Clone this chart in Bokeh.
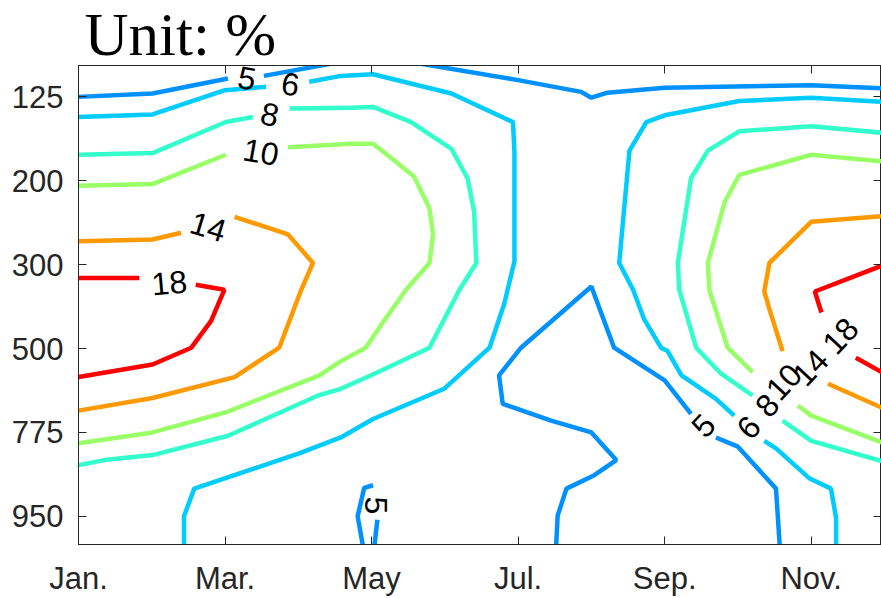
import math
from bokeh.plotting import figure
from bokeh.models import Range1d, FixedTicker, LinearAxis
from bokeh.embed import file_html
from bokeh.resources import INLINE
from bokeh.core.properties import value

# ---------------- data ----------------
title_text = "Unit: %"

month_ticks = [1, 3, 5, 7, 9, 11]
month_labels = ["Jan.", "Mar.", "May", "Jul.", "Sep.", "Nov."]
level_ticks = [1, 2, 3, 4, 5, 6]
level_labels = ["125", "200", "300", "500", "775", "950"]

levels = [5, 6, 8, 10, 14, 18]
level_colors = ["#0091FF", "#00CCFF", "#33FFCC", "#99FF66", "#FF9900", "#FF0000"]

# contour polylines: x = month (1=Jan), y = pressure-level index (1=125 ... 6=950)
c5_x = [
    [1.00, 2.01, 3.04],
    [3.53, 4.60],
    [5.50, 7.00, 7.86, 8.00, 8.22, 9.00, 11.00, 12.00],
    [7.52, 7.54, 7.66, 8.04, 8.34, 8.00, 7.45, 6.79, 6.74, 7.04, 8.00, 8.31, 9.00, 9.36],
    [9.70, 10.00, 10.52, 10.57],
    [4.88, 4.81, 4.90, 5.02],
    [5.08, 5.04],
]
c5_y = [
    [1.00, 0.96, 0.78],
    [0.75, 0.58],
    [0.58, 0.80, 0.94, 1.01, 0.95, 0.89, 0.86, 0.90],
    [6.34, 5.99, 5.67, 5.51, 5.33, 5.00, 4.86, 4.66, 4.32, 3.99, 3.26, 3.99, 4.38, 4.78],
    [5.06, 5.17, 5.67, 6.34],
    [6.34, 6.00, 5.66, 5.63],
    [6.04, 6.34],
]
c6_x = [
    [1.00, 2.01, 3.00, 3.56],
    [4.15, 4.58, 5.02, 6.09, 6.93, 6.95, 6.95, 6.81, 6.61, 5.99, 5.02, 4.58, 4.01, 2.58, 2.44, 2.44],
    [12.00, 11.00, 10.02, 9.00, 8.75, 8.52, 8.38, 8.57, 8.72, 8.95, 9.04, 9.23, 9.70, 9.95],
    [10.36, 10.52, 10.98, 11.27, 11.34, 11.34],
]
c6_y = [
    [1.24, 1.21, 0.92, 0.88],
    [0.82, 0.75, 0.73, 0.96, 1.30, 1.66, 2.96, 3.47, 3.99, 4.48, 4.84, 5.06, 5.25, 5.67, 6.00, 6.34],
    [1.06, 1.01, 1.05, 1.22, 1.30, 1.64, 2.98, 3.30, 3.65, 3.99, 4.03, 4.32, 4.60, 4.80],
    [5.10, 5.19, 5.55, 5.67, 6.02, 6.34],
]
c8_x = [
    [1.00, 2.01, 3.01, 3.38],
    [3.88, 4.72, 5.02, 5.54, 6.09, 6.31, 6.40, 6.43, 6.20, 5.79, 5.04, 4.58, 4.27, 3.04, 2.01, 1.35, 1.00],
    [12.00, 11.00, 10.02, 9.59, 9.36, 9.18, 9.20, 9.43, 9.77, 10.20],
    [10.61, 11.00, 12.00],
]
c8_y = [
    [1.69, 1.67, 1.30, 1.24],
    [1.14, 1.13, 1.12, 1.30, 1.62, 1.97, 2.37, 2.98, 3.30, 3.99, 4.30, 4.48, 4.56, 5.04, 5.27, 5.33, 5.39],
    [1.43, 1.35, 1.41, 1.64, 1.97, 2.98, 3.30, 3.99, 4.30, 4.56],
    [4.86, 5.10, 5.35],
]
c10_x = [
    [1.00, 2.01, 3.01],
    [3.86, 4.72, 5.02, 5.17, 5.58, 5.79, 5.84, 5.79, 5.47, 5.17, 4.92, 4.58, 4.29, 3.01, 2.01, 1.00],
    [12.00, 11.00, 10.02, 9.82, 9.59, 9.61, 9.86, 10.20],
    [10.82, 11.00, 12.00],
]
c10_y = [
    [2.06, 2.04, 1.69],
    [1.60, 1.56, 1.56, 1.66, 1.95, 2.33, 2.64, 2.98, 3.30, 3.67, 3.99, 4.15, 4.32, 4.76, 5.00, 5.13],
    [1.77, 1.69, 1.93, 2.25, 2.98, 3.30, 3.99, 4.28],
    [4.68, 4.80, 5.13],
]
c14_x = [
    [1.00, 2.01, 2.40],
    [3.13, 3.86, 4.20, 4.04, 3.74, 3.13, 2.01, 1.00],
    [12.00, 11.00, 10.43, 10.36, 10.43, 10.61],
    [11.23, 12.00],
]
c14_y = [
    [2.72, 2.70, 2.62],
    [2.43, 2.64, 2.98, 3.30, 3.99, 4.34, 4.59, 4.74],
    [2.42, 2.49, 2.98, 3.32, 3.53, 4.03],
    [4.42, 4.72],
]
c18_x = [
    [1.00, 1.83],
    [2.60, 2.99, 2.81, 2.54, 2.01, 1.00],
    [12.00, 11.05, 11.14],
    [11.61, 12.00],
]
c18_y = [
    [3.16, 3.16],
    [3.24, 3.30, 3.67, 3.99, 4.19, 4.34],
    [3.00, 3.32, 3.57],
    [4.11, 4.30],
]

# inline contour labels
label_text = ["5", "6", "8", "10", "14", "18", "5", "5", "6", "8", "10", "14", "18"]
label_x = [3.30, 3.89, 3.61, 3.49, 2.77, 2.24, 5.06, 9.53, 10.15, 10.40, 10.63, 10.99, 11.40]
label_y = [0.78, 0.85, 1.21, 1.66, 2.55, 3.22, 5.87, 4.92, 4.94, 4.68, 4.40, 4.23, 3.85]
label_angle_deg = [-10, -8, -12, -10, -17, 5, -90, 47, 47, 47, 47, 47, 47]

# ---------------- figure ----------------
AX = "#262626"
p = figure(
    width=881, height=598,
    output_backend="svg", toolbar_location=None,
    x_range=Range1d(1, 11.96), y_range=Range1d(6.336, 0.626),
    min_border_left=78, min_border_right=0, min_border_top=0, min_border_bottom=0,
    background_fill_color="white", border_fill_color="white",
    title=title_text,
)
p.grid.visible = False
p.outline_line_color = AX
p.outline_line_width = 1

p.title.text_font = "Liberation Serif"
p.title.text_font_size = "61px"
p.title.text_font_style = "normal"
p.title.text_color = "black"
p.title.align = "left"
p.title.offset = 6
p.title.standoff = -4

contours_x = [c5_x, c6_x, c8_x, c10_x, c14_x, c18_x]
contours_y = [c5_y, c6_y, c8_y, c10_y, c14_y, c18_y]
for xs, ys, col in zip(contours_x, contours_y, level_colors):
    p.multi_line(xs=xs, ys=ys, line_color=col, line_width=4.5)

p.text(
    x=label_x, y=label_y, text=label_text,
    angle=[math.radians(a) for a in label_angle_deg],
    text_align="center", text_baseline="middle",
    text_font=value("Liberation Sans"), text_font_size="32px", text_color="black",
)

def style_axis(ax, ticks, labels, show):
    ax.ticker = FixedTicker(ticks=ticks)
    ax.major_label_overrides = {t: (l if show else "") for t, l in zip(ticks, labels)}
    ax.major_tick_in = 8
    ax.major_tick_out = 0
    ax.minor_tick_in = 0
    ax.minor_tick_out = 0
    ax.major_tick_line_color = AX
    ax.major_tick_line_width = 1
    ax.axis_line_color = AX
    ax.major_label_text_font = "Liberation Sans"
    ax.major_label_text_font_size = "31px"
    ax.major_label_text_color = AX

style_axis(p.xaxis[0], month_ticks, month_labels, True)
p.xaxis[0].major_label_standoff = 16
style_axis(p.yaxis[0], level_ticks, level_labels, True)
p.yaxis[0].major_label_standoff = 15

top_ax = LinearAxis()
style_axis(top_ax, month_ticks, month_labels, False)
top_ax.major_label_standoff = 0
top_ax.major_label_text_font_size = "1px"
p.add_layout(top_ax, "above")

right_ax = LinearAxis()
style_axis(right_ax, level_ticks, level_labels, False)
right_ax.major_label_standoff = 0
right_ax.major_label_text_font_size = "1px"
p.add_layout(right_ax, "right")

open("out.html", "w").write(file_html(p, INLINE))
